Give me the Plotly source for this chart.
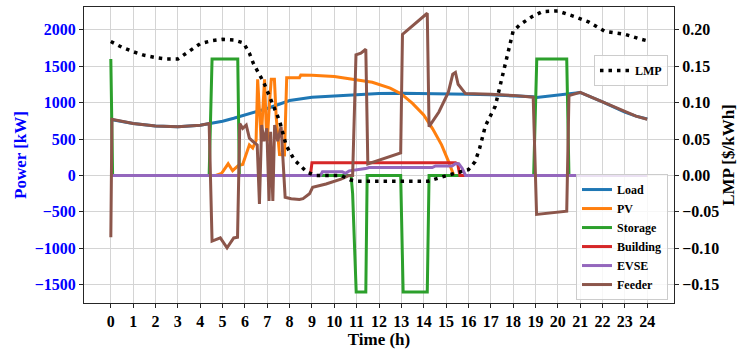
import plotly.graph_objects as go

# ---------------- data ----------------
hours = list(range(25))
power_ticks = [-1500, -1000, -500, 0, 500, 1000, 1500, 2000]
lmp_ticks = [-0.15, -0.10, -0.05, 0.00, 0.05, 0.10, 0.15, 0.20]

load_t = [0, 1, 2, 3, 4, 4.5, 5, 5.5, 6, 6.5, 7, 7.5, 8, 9, 10, 11, 12, 13, 14, 15,
          16, 17, 18, 18.9, 19.05, 20.4, 21, 22, 23, 23.5, 24]
load_kw = [770, 714, 680, 670, 690, 714, 745, 785, 835, 875, 920, 980, 1030, 1075, 1095,
           1112, 1125, 1130, 1128, 1122, 1115, 1108, 1098, 1080, 1072, 1112, 1140, 1010,
           870, 815, 775]

pv_t = [0, 4.7, 4.95, 5.25, 5.45, 5.7, 5.9, 6.2, 6.35, 6.5, 6.57, 6.65, 6.73, 6.8, 6.88,
        6.95, 7.0, 7.1, 7.18, 7.32, 7.4, 7.55, 7.77, 7.87, 8.44, 8.5, 9, 10, 11, 11.7,
        12.5, 13, 13.5, 14, 14.4, 14.8, 15.1, 15.35, 24]
pv_kw = [0, 0, 27, 160, 65, 135, 150, 420, 377, 480, 1320, 800, 470, 900, 1320, 700, 470,
         1000, 1320, 1320, 800, 287, 283, 1343, 1343, 1380, 1378, 1360, 1315, 1280, 1200,
         1120, 990, 830, 640, 420, 200, 0, 0]

storage_t = [0, 0.08, 4.4, 4.53, 5.68, 5.75, 10.75, 10.82, 10.98, 11.41, 11.47, 12.97,
             13.08, 14.16, 14.24, 18.92, 19.06, 20.4, 20.5, 24]
storage_kw = [1600, 0, 0, 1600, 1600, 0, 0, -250, -1600, -1600, 0, 0, -1600, -1600, 0, 0,
              1600, 1600, 0, 0]

building_t = [0, 8.93, 9.0, 15.42, 15.52, 15.62, 24]
building_kw = [0, 0, 175, 175, 160, 0, 0]

evse_t = [0, 9.38, 9.47, 10.36, 10.5, 10.67, 11.4, 11.55, 14.38, 14.53, 15.27, 15.42,
          15.57, 15.72, 15.87, 24]
evse_kw = [0, 0, 50, 50, 30, 63, 94, 108, 108, 130, 130, 160, 160, 100, 0, 0]

feeder_t = [0, 0.05, 1, 2, 3, 4, 4.4, 4.53, 4.9, 5.2, 5.5, 5.67, 5.77, 5.9, 6.06, 6.2,
            6.35, 6.55, 6.65, 6.75, 6.85, 6.98, 7.08, 7.15, 7.25, 7.33, 7.47, 7.62, 7.8,
            8.07, 8.44, 8.6, 8.89, 9.03, 9.63, 10.3, 10.67, 10.82, 10.97, 11.19, 11.41,
            11.5, 12.97, 13.05, 14.16, 14.24, 14.68, 15.1, 15.3, 15.42, 15.54, 15.65,
            15.87, 17, 18, 18.9, 19.05, 20.4, 20.5, 21, 22, 23, 23.5, 24]
feeder_kw = [-850, 770, 714, 680, 670, 690, 714, -903, -858, -993, -858, -849, 714, 647,
             692, 512, 470, 420, -390, 692, 470, 647, -350, 600, -350, 692, 470, 670, -300,
             -319, -330, -319, -252, -162, -117, -50, 0, 0, 1658, 1680, 1734, 160, 310,
             1937, 2228, 670, 872, 1141, 1390, 1415, 1253, 1212, 1125, 1115, 1100, 1075,
             -535, -490, 1096, 1141, 1010, 872, 815, 772]

lmp_t = [0, 0.5, 1, 1.5, 2, 2.5, 3, 3.5, 4, 4.5, 5, 5.5, 5.94, 6.2, 6.39, 6.84, 7.28,
         7.55, 7.85, 8.22, 8.8, 9.2, 10.3, 10.7, 11, 14.2, 14.5, 15.0, 15.4, 16.0, 16.3,
         16.5, 16.76, 17.2, 17.45, 17.62, 17.85, 18.0, 18.3, 18.84, 19.3, 20.0, 20.77,
         21.37, 22.1, 23.0, 23.74, 24]
lmp_val = [0.184, 0.176, 0.170, 0.165, 0.162, 0.160, 0.160, 0.171, 0.181, 0.185, 0.187,
           0.186, 0.182, 0.168, 0.153, 0.128, 0.097, 0.075, 0.041, 0.021, 0.004, 0.0, 0.0,
           -0.006, -0.008, -0.008, -0.005, 0.0, 0.003, 0.008, 0.019, 0.037, 0.068, 0.095,
           0.128, 0.150, 0.180, 0.198, 0.207, 0.218, 0.225, 0.226, 0.218, 0.211, 0.198,
           0.194, 0.187, 0.185]

# ---------------- figure ----------------
FONT = "Liberation Serif"
GRID = "#d4d4d4"
AXIS = "#262626"
TICK_SIZE = 16

fig = go.Figure()
series = [
    ("Load", load_t, load_kw, "#1f77b4"),
    ("PV", pv_t, pv_kw, "#ff7f0e"),
    ("Storage", storage_t, storage_kw, "#2ca02c"),
    ("Building", building_t, building_kw, "#d62728"),
    ("EVSE", evse_t, evse_kw, "#9467bd"),
    ("Feeder", feeder_t, feeder_kw, "#8c564b"),
]
for name, t, v, c in series:
    fig.add_trace(go.Scatter(x=t, y=v, mode="lines", name=name,
                             line=dict(color=c, width=3), legend="legend"))

fig.add_trace(go.Scatter(x=lmp_t, y=lmp_val, mode="lines", name="LMP", yaxis="y2",
                         line=dict(color="black", width=3.5, dash="3.5px,5px"),
                         legend="legend2"))

legend_common = dict(bgcolor="rgba(255,255,255,0.8)", bordercolor="#cccccc", borderwidth=1,
                     font=dict(family=FONT, size=12, color="black", weight="bold"))

fig.update_layout(
    width=747, height=350,
    margin=dict(l=84, r=73, t=6, b=42),
    plot_bgcolor="white", paper_bgcolor="white",
    font=dict(family=FONT, size=15, color="black", weight="bold"),
    xaxis=dict(range=[-1.2, 25.2], tickvals=hours, showgrid=True, gridcolor=GRID,
               gridwidth=1, zeroline=False, showline=True, mirror=True, linecolor=AXIS,
               linewidth=1, ticks="outside", ticklen=4, tickcolor=AXIS,
               tickfont=dict(family=FONT, size=TICK_SIZE, color="black", weight="bold"),
               title=dict(text="Time (h)", standoff=2,
                          font=dict(family=FONT, size=17, color="black", weight="bold"))),
    yaxis=dict(range=[-1752, 2314], tickvals=power_ticks, showgrid=True, gridcolor=GRID,
               gridwidth=1, zeroline=False, showline=True, linecolor=AXIS, linewidth=1,
               ticks="outside", ticklen=4, tickcolor=AXIS,
               tickfont=dict(family=FONT, size=TICK_SIZE, color="blue", weight="bold"),
               title=dict(text="Power [kW]", standoff=3,
                          font=dict(family=FONT, size=17, color="blue", weight="bold"))),
    yaxis2=dict(overlaying="y", side="right", range=[-0.1752, 0.2314], tickvals=lmp_ticks,
                tickformat=".2f", showgrid=False, zeroline=False, showline=True,
                linecolor=AXIS, linewidth=1, ticks="outside", ticklen=4, tickcolor=AXIS,
                tickfont=dict(family=FONT, size=TICK_SIZE, color="black", weight="bold"),
                title=dict(text="LMP [$/kWh]", standoff=3,
                           font=dict(family=FONT, size=17, color="black", weight="bold"))),
    legend=dict(x=0.9898, y=0.01, xanchor="right", yanchor="bottom", **legend_common),
    legend2=dict(x=0.9898, y=0.838, xanchor="right", yanchor="top", **legend_common),
)

fig.write_html("out.html", config={"displayModeBar": False},
               post_script="document.body.style.margin='0px';document.body.style.padding='0px';")
